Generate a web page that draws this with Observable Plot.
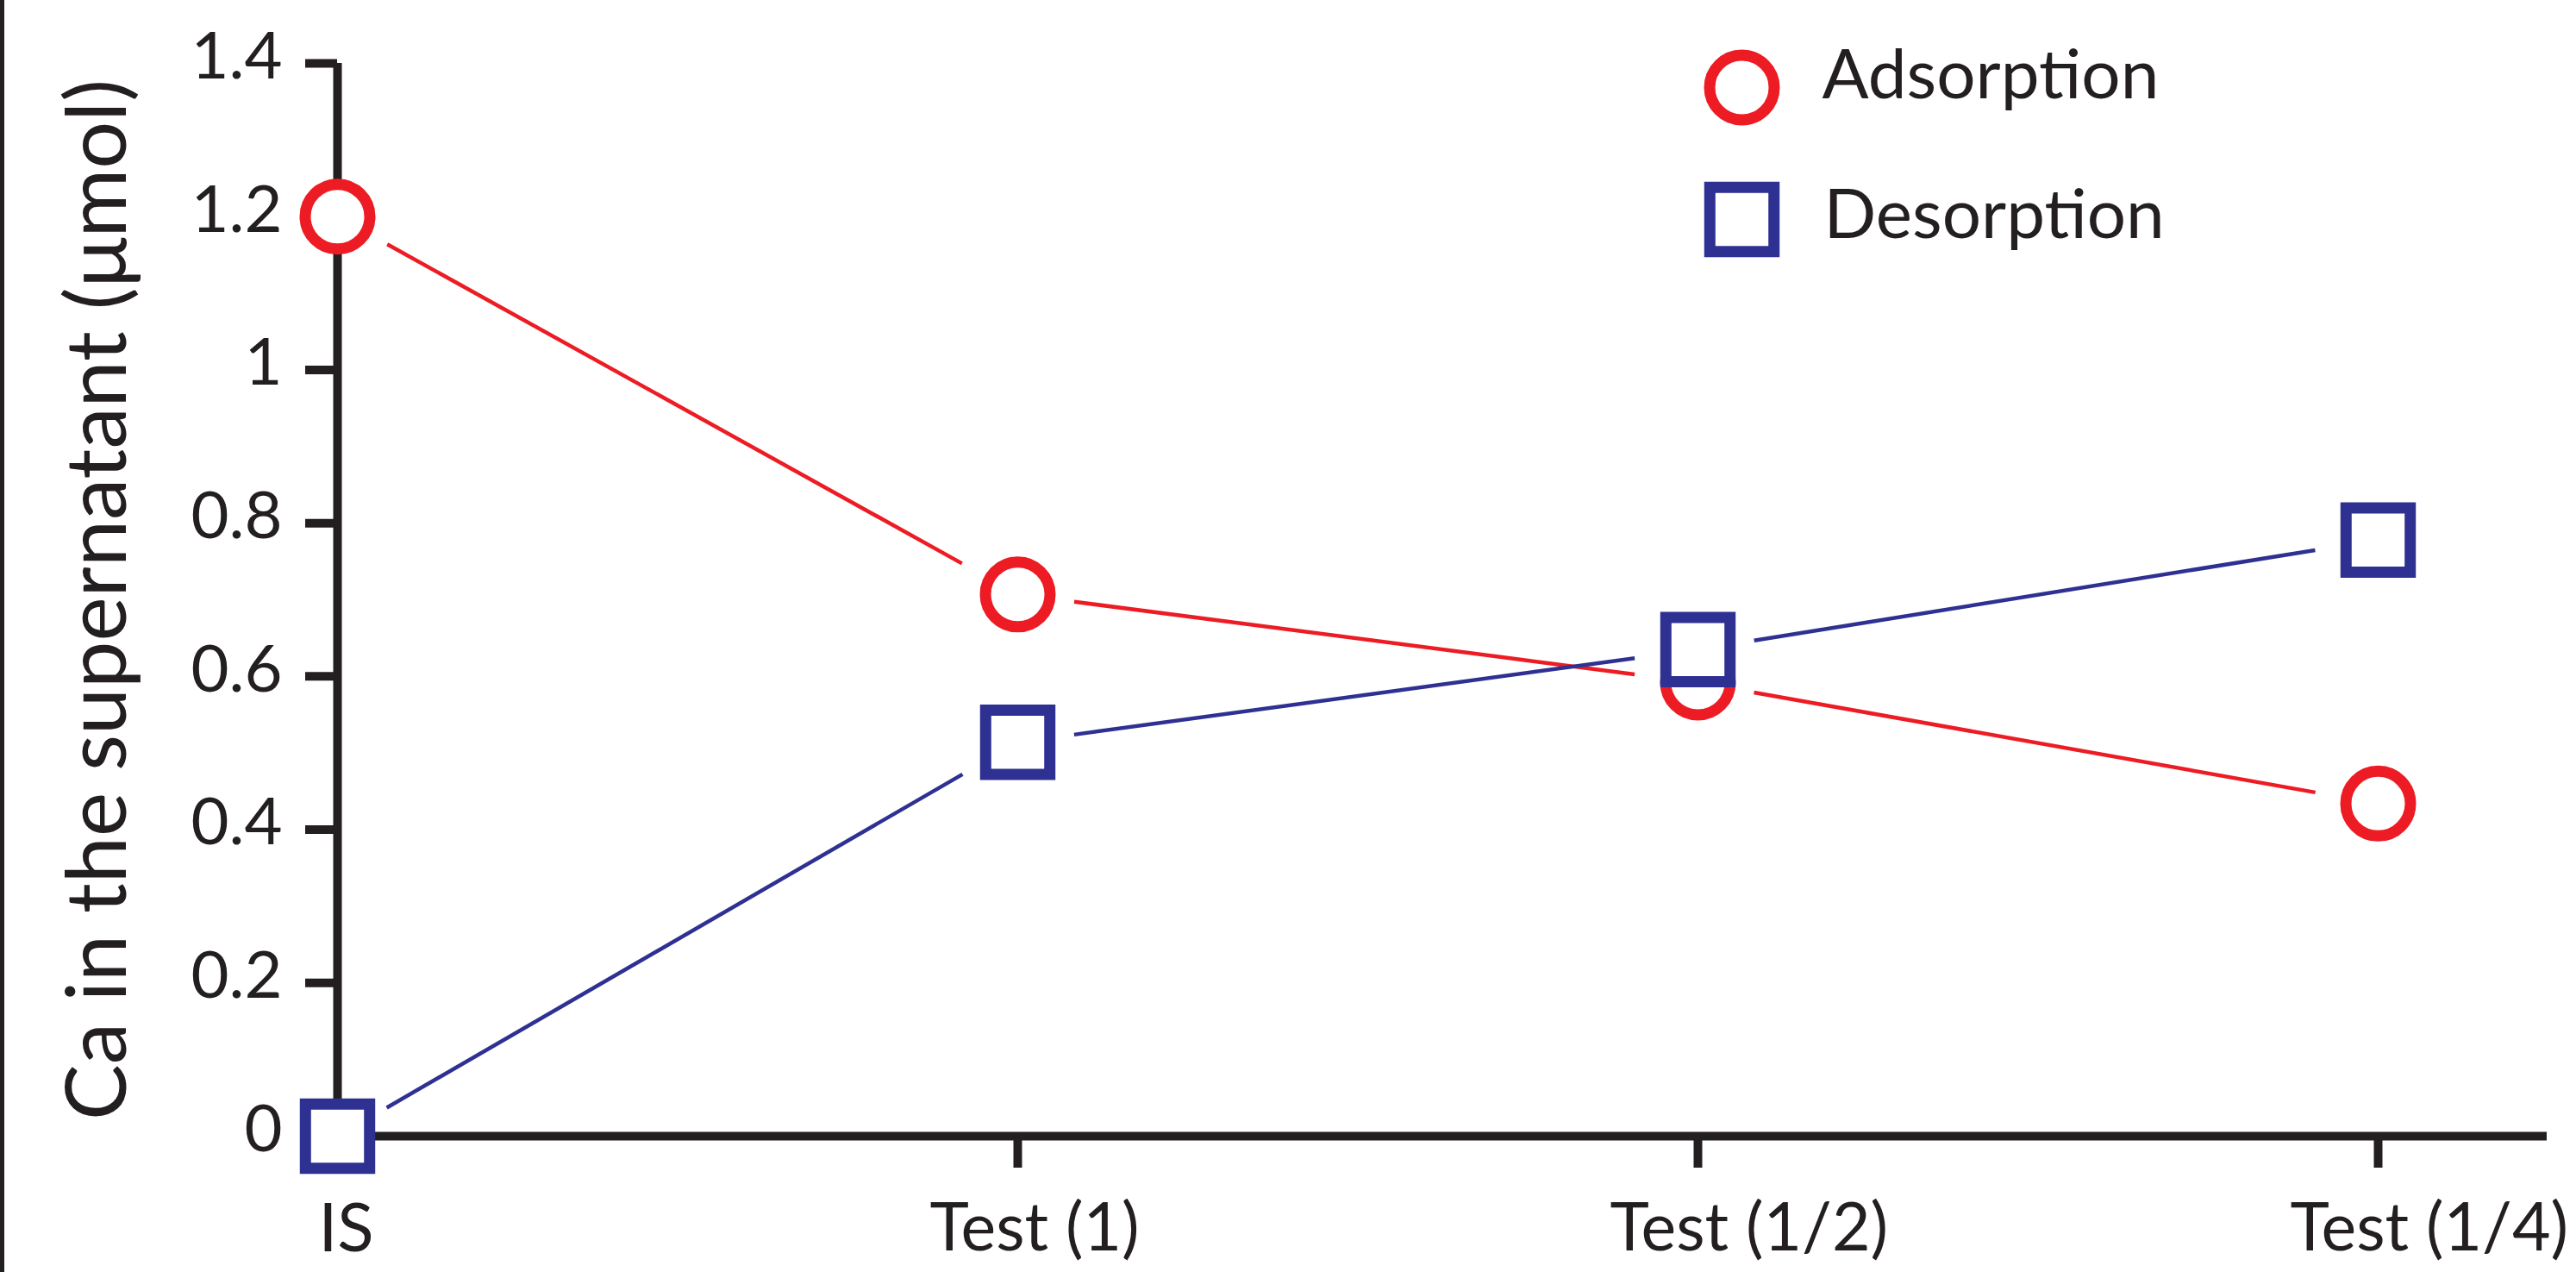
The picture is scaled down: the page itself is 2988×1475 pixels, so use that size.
<!DOCTYPE html>
<html>
<head>
<meta charset="utf-8">
<script src="https://cdn.jsdelivr.net/npm/d3@7"></script>
<script src="https://cdn.jsdelivr.net/npm/@observablehq/plot@0.6"></script>
<style>
  html, body { margin: 0; padding: 0; background: #fff; }
  #chart { position: relative; width: 2988px; height: 1475px; overflow: hidden; }
  #chart .edge { position: absolute; left: 0; top: 0; width: 5px; height: 1475px; background: #231F20; }
</style>
</head>
<body>
<div id="chart"><div class="edge"></div></div>
<script>
// Calcium left in the supernatant after each step
const categories = ["IS", "Test (1)", "Test (1/2)", "Test (1/4)"];
const adsorption = [1.2, 0.707, 0.592, 0.434];
const desorption = [0, 0.514, 0.635, 0.778];
const yTicks = [0, 0.2, 0.4, 0.6, 0.8, 1, 1.2, 1.4];
const seriesNames = ["Adsorption", "Desorption"];
const yTitle = "Ca in the supernatant (μmol)";

const RED = "#ED1C24";
const BLUE = "#2E3192";
const INK = "#231F20";
const FONT = "Lato, 'Open Sans', sans-serif";

const rows = (values, series) => values.map((v, i) => ({x: categories[i], y: v, series}));
const adsRows = rows(adsorption, seriesNames[0]);
const desRows = rows(desorption, seriesNames[1]);

// consecutive point pairs, drawn as lines that stop short of the markers
const segments = (values, series) => values.slice(1).map((v, i) => ({
  x1: categories[i], y1: values[i], x2: categories[i + 1], y2: v, series
}));
const segs = [...segments(adsorption, seriesNames[0]), ...segments(desorption, seriesNames[1])];

const chart = Plot.plot({
  width: 2988,
  height: 1475,
  marginTop: 73,
  marginBottom: 158,
  marginLeft: 391,
  marginRight: 34,
  style: {fontFamily: FONT, color: INK, background: "white", overflow: "visible"},
  x: {type: "point", domain: categories, padding: 0.1235, align: 0},
  y: {domain: [0, 1.4]},
  color: {domain: seriesNames, range: [RED, BLUE]},
  marks: [
    // axis lines
    Plot.ruleY([0], {stroke: INK, strokeWidth: 10}),
    Plot.ruleX([categories[0]], {stroke: INK, strokeWidth: 10}),
    // y ticks and labels
    Plot.axisY(yTicks, {tickSize: 37, strokeWidth: 10, stroke: INK, fill: "none", label: null}),
    Plot.axisY(yTicks, {tickSize: 0, tickPadding: 64, dy: -7, fontSize: 76, fill: INK,
      tickFormat: d => String(d), label: null}),
    // x ticks and labels
    Plot.axisX(categories, {tickSize: 37, strokeWidth: 10, stroke: INK, fill: "none", label: null}),
    Plot.axisX(categories.slice(0, 1), {tickSize: 0, tickPadding: 78, dx: 10, fontSize: 78, fill: INK, label: null}),
    Plot.axisX(categories.slice(1), {tickSize: 0, tickPadding: 78, dx: -102, textAnchor: "start",
      fontSize: 77, fill: INK, label: null}),
    // y title
    Plot.text([yTitle], {text: d => d, frameAnchor: "left", rotate: -90, dx: -277,
      textAnchor: "middle", lineAnchor: "middle", fontSize: 97, fill: INK}),
    // connecting lines
    Plot.arrow(segs, {x1: "x1", y1: "y1", x2: "x2", y2: "y2", stroke: "series",
      strokeWidth: 4.5, strokeLinecap: "butt", headLength: 0, insetStart: 66, insetEnd: 74}),
    // markers
    Plot.dot(adsRows, {x: "x", y: "y", symbol: "circle", r: 37.5, stroke: RED, strokeWidth: 13, fill: "white"}),
    Plot.dot(desRows, {x: "x", y: "y", symbol: "square", r: 42, stroke: BLUE, strokeWidth: 13, fill: "white"}),
    // legend
    Plot.dot([seriesNames[0]], {frameAnchor: "top-left", dx: 1629, dy: 28, symbol: "circle", r: 37.5,
      stroke: RED, strokeWidth: 13, fill: "white"}),
    Plot.dot([seriesNames[1]], {frameAnchor: "top-left", dx: 1629, dy: 181, symbol: "square", r: 42,
      stroke: BLUE, strokeWidth: 13, fill: "white"}),
    Plot.text([seriesNames[0]], {text: d => d, frameAnchor: "top-left", dx: 1722, dy: -16.8,
      textAnchor: "start", lineAnchor: "top", fontSize: 80, fill: INK}),
    Plot.text([seriesNames[1]], {text: d => d, frameAnchor: "top-left", dx: 1724, dy: 145.2,
      textAnchor: "start", lineAnchor: "top", fontSize: 80, fill: INK})
  ]
});

document.getElementById("chart").appendChild(chart);
</script>
</body>
</html>
